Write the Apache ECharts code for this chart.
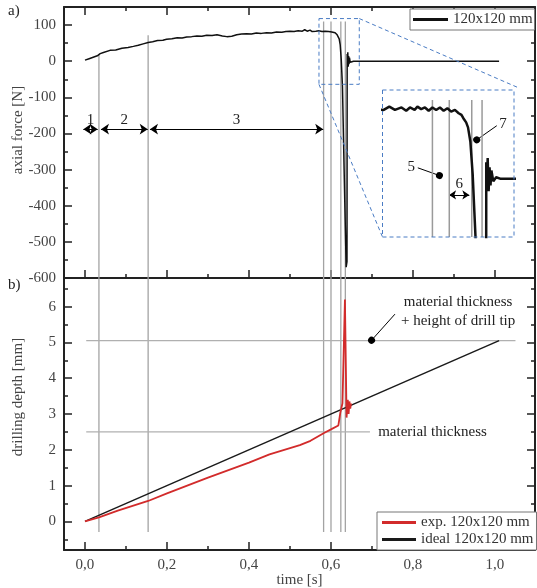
<!DOCTYPE html>
<html><head><meta charset="utf-8">
<script src="https://cdn.jsdelivr.net/npm/echarts@6/dist/echarts.min.js"></script>
<style>html,body{margin:0;padding:0;background:#fff}#c{width:537px;height:588px}</style>
</head><body><div id="c"></div>
<script>
// ---- data ----
const forceTime = [0, 0.01, 0.02, 0.03, 0.037, 0.045, 0.061, 0.075, 0.09, 0.105, 0.118, 0.13, 0.142, 0.154, 0.165, 0.177, 0.19, 0.199, 0.212, 0.225, 0.237, 0.248, 0.26, 0.273, 0.285, 0.297, 0.31, 0.322, 0.335, 0.346, 0.358, 0.37, 0.382, 0.394, 0.406, 0.418, 0.43, 0.443, 0.455, 0.467, 0.48, 0.49, 0.5, 0.51, 0.52, 0.53, 0.536, 0.542, 0.549, 0.554, 0.558, 0.563, 0.566, 0.57, 0.574, 0.578, 0.582, 0.586, 0.59, 0.594, 0.598, 0.602, 0.606, 0.61, 0.613, 0.615, 0.618, 0.62, 0.6225, 0.625, 0.628, 0.632, 0.637, 0.639, 0.6395, 0.640, 0.641, 0.642, 0.643, 0.644, 0.645, 0.647, 0.65, 0.655, 1.01];
const forceValue = [3, 7, 11, 15, 21, 24, 30, 31, 36, 38, 41, 44, 48, 52, 54, 57, 58, 61, 62, 65, 64, 67, 68, 70, 69, 72, 71, 73, 70, 68, 69, 73, 75, 76, 75, 78, 77, 79, 78, 81, 80, 82, 83, 82, 84, 83, 87, 83, 86, 82, 86, 83, 87, 84, 86, 82, 86, 83, 86, 82, 85, 81, 83, 79, 77, 73, 68, 62, 45, 5, -70, -300, -570, -555, 20, -12, 25, -15, 14, -8, 10, -3, 2, 0, 0];
const depthTime = [0, 0.034, 0.08, 0.154, 0.2, 0.3, 0.4, 0.45, 0.524, 0.55, 0.583, 0.6, 0.618, 0.621, 0.623, 0.628, 0.634, 0.638, 0.641, 0.643, 0.645, 0.647, 0.649];
const depthValue = [0, 0.11, 0.3, 0.57, 0.78, 1.22, 1.64, 1.87, 2.13, 2.25, 2.47, 2.57, 2.68, 2.72, 3.05, 3.3, 6.2, 2.9, 3.4, 3.0, 3.35, 3.15, 3.3];
const idealTime = [0, 1.01];
const idealValue = [0, 5.05];
const phaseTimes = [0.034, 0.154, 0.582, 0.6, 0.624, 0.635];
const phaseTopForce = [20, 72, 110, 110, 110, 110];
const insetLineTop = 95;
const depthLineBottom = -0.3;
const refLevels = [5.05, 2.5];
const refStart = [0.003, 0.003];
const refEnd = [1.05, 0.695];
const zoomBox = { t0: 0.5707, t1: 0.669, f0: -64, f1: 118 };
const seriesNames = ['120x120 mm', 'exp. 120x120 mm', 'ideal 120x120 mm'];

const FONT = 'Liberation Serif';
const AX = '#222';
const LBL = '#444';
const zip = (a, b) => a.map((v, i) => [v, b[i]]);

function mainX(gridIndex, pos, showLabel, name) {
  return {
    type: 'value', gridIndex, position: pos, min: -0.0512, max: 1.0976,
    splitNumber: 6, minInterval: 0.2, maxInterval: 0.2,
    axisLine: { show: true, onZero: false, lineStyle: { color: AX, width: 2 } },
    axisTick: { show: true, inside: true, length: 8, lineStyle: { color: AX, width: 1.5 } },
    minorTick: { show: true, splitNumber: 2, length: 4, lineStyle: { color: AX, width: 1.5 } },
    axisLabel: { show: showLabel, showMinLabel: false, showMaxLabel: false, margin: 8,
      fontFamily: FONT, fontSize: 15, color: LBL,
      formatter: v => v.toFixed(1).replace('.', ',') },
    splitLine: { show: false },
    name: name || '', nameLocation: 'middle', nameGap: 23, nameMoveOverlap: false,
    nameTextStyle: { fontFamily: FONT, fontSize: 15, color: LBL }
  };
}
function mainY(gridIndex, pos, showLabel, cfg, name, pad, showMin) {
  return Object.assign({
    type: 'value', gridIndex, position: pos,
    axisLine: { show: true, onZero: false, lineStyle: { color: AX, width: 2 } },
    axisTick: { show: true, inside: true, length: 8, lineStyle: { color: AX, width: 1.5 } },
    minorTick: { show: true, splitNumber: 2, length: 4, lineStyle: { color: AX, width: 1.5 } },
    axisLabel: { show: showLabel, showMaxLabel: false, showMinLabel: showMin, margin: 8,
      fontFamily: FONT, fontSize: 15, color: LBL },
    splitLine: { show: false },
    name: name || '', nameLocation: 'middle', nameGap: 38, nameMoveOverlap: false,
    nameTextStyle: { fontFamily: FONT, fontSize: 15, color: LBL, padding: pad || 0 }
  }, cfg);
}
const forceY = { min: -600, max: 150, interval: 100 };
const depthY = { min: -0.8, max: 6.8, splitNumber: 7, minInterval: 1, maxInterval: 1 };

const series = [];
const txt = { fontFamily: FONT, fontSize: 15, color: '#222' };

series.push({
  name: seriesNames[0], type: 'line', xAxisIndex: 0, yAxisIndex: 0, symbol: 'none', z: 5,
  lineStyle: { color: '#111', width: 1.5 }, itemStyle: { color: '#111' },
  data: zip(forceTime, forceValue),
  markLine: {
    silent: true, symbol: ['arrow', 'arrow'], symbolSize: 8, animation: false,
    lineStyle: { color: '#000', width: 1, type: 'solid' },
    label: Object.assign({ show: true, position: 'insideMiddleTop', distance: 2, formatter: '{b}' }, txt),
    data: [
      [{ name: '1', coord: [-0.004, -188] }, { coord: [0.031, -188] }],
      [{ name: '2', coord: [0.039, -188] }, { coord: [0.153, -188] }],
      [{ name: '3', coord: [0.1585, -188] }, { coord: [0.581, -188] }]
    ]
  }
});
series.push({
  name: 'inset', type: 'line', xAxisIndex: 3, yAxisIndex: 4, symbol: 'none', z: 6, clip: true,
  lineStyle: { color: '#111', width: 2.5 }, data: zip(forceTime, forceValue),
  markLine: {
    silent: true, animation: false, symbolSize: 7,
    lineStyle: { color: '#000', width: 1, type: 'solid' },
    label: Object.assign({ show: true, formatter: '{b}', distance: 3 }, txt),
    data: [
      [{ name: '5', coord: [0.5664, 13.3], symbol: 'none', label: { position: 'start' } }, { coord: [0.5895, 4], symbol: 'circle' }],
      [{ name: '6', coord: [0.5998, -19.3], symbol: 'arrow', label: { position: 'insideMiddleTop' } }, { coord: [0.6214, -19.3], symbol: 'arrow' }],
      [{ name: '7', coord: [0.6507, 64], symbol: 'none', label: { position: 'start' } }, { coord: [0.6293, 47], symbol: 'circle' }]
    ]
  }
});
series.push({
  name: seriesNames[1], type: 'line', xAxisIndex: 2, yAxisIndex: 2, symbol: 'none', z: 5,
  lineStyle: { color: '#d22b2b', width: 1.8 }, itemStyle: { color: '#d22b2b' },
  data: zip(depthTime, depthValue)
});
series.push({
  name: seriesNames[2], type: 'line', xAxisIndex: 2, yAxisIndex: 2, symbol: 'none', z: 4,
  lineStyle: { color: '#1a1a1a', width: 1.5 }, itemStyle: { color: '#1a1a1a' },
  data: zip(idealTime, idealValue),
  markLine: {
    silent: true, animation: false, label: { show: false },
    lineStyle: { color: '#000', width: 1, type: 'solid' },
    data: [[{ coord: [0.756, 5.79], symbol: 'none' }, { coord: [0.699, 5.06], symbol: 'circle', symbolSize: 7 }]]
  },
  markPoint: {
    silent: true, animation: false, symbol: 'circle', symbolSize: 1,
    itemStyle: { color: 'rgba(0,0,0,0)' },
    label: Object.assign({ show: true, position: 'inside', formatter: '{b}', lineHeight: 19, align: 'center' }, txt),
    data: [
      { name: 'material thickness\n+ height of drill tip', coord: [0.91, 5.85] },
      { name: 'material thickness', coord: [0.8476, 2.5] }
    ]
  }
});
const grayLine = { color: '#a3a3a3', width: 1.3 };
phaseTimes.forEach((t, i) => {
  series.push({ type: 'line', xAxisIndex: 0, yAxisIndex: 0, symbol: 'none', z: 2, silent: true,
    lineStyle: grayLine, data: [[t, phaseTopForce[i]], [t, -600]] });
  series.push({ type: 'line', xAxisIndex: 2, yAxisIndex: 2, symbol: 'none', z: 2, silent: true,
    lineStyle: grayLine, data: [[t, 6.8], [t, depthLineBottom]] });
  series.push({ type: 'line', xAxisIndex: 3, yAxisIndex: 4, symbol: 'none', z: 5, silent: true,
    lineStyle: { color: '#9a9a9a', width: 1.5 }, data: [[t, insetLineTop], [t, -70]] });
});
refLevels.forEach((lv, i) => {
  series.push({ type: 'line', xAxisIndex: 2, yAxisIndex: 2, symbol: 'none', z: 2, silent: true,
    lineStyle: { color: '#b0b0b0', width: 1.2 }, data: [[refStart[i], lv], [refEnd[i], lv]] });
});

const option = {
  animation: false,
  backgroundColor: '#fff',
  grid: [
    { left: 64, top: 7, width: 471, height: 271, outerBoundsMode: 'none', containLabel: false },
    { left: 64, top: 278, width: 471, height: 272, outerBoundsMode: 'none', containLabel: false },
    { left: 382.5, top: 90, width: 131.5, height: 147, outerBoundsMode: 'none', containLabel: false,
      show: true, backgroundColor: '#fff', borderWidth: 0, z: 3 }
  ],
  xAxis: [
    mainX(0, 'bottom', false),
    mainX(0, 'top', false),
    mainX(1, 'bottom', true, 'time [s]'),
    { type: 'value', gridIndex: 2, min: 0.5287, max: 0.6691, show: false }
  ],
  yAxis: [
    mainY(0, 'left', true, forceY, 'axial force [N]', [0, 0, 0, 25], true),
    mainY(0, 'right', false, forceY),
    mainY(1, 'left', true, depthY, 'drilling depth [mm]', [0, 0, 0, 34], false),
    mainY(1, 'right', false, depthY),
    { type: 'value', gridIndex: 2, min: -70, max: 107, show: false }
  ],
  legend: [
    { data: [seriesNames[0]], left: 410, top: 9, padding: [3, 2, 3, 3], itemWidth: 35, itemHeight: 3,
      icon: 'rect', selectedMode: false, borderColor: '#777', borderWidth: 1, backgroundColor: '#fff',
      textStyle: { fontFamily: FONT, fontSize: 15, color: '#333', lineHeight: 15 } },
    { data: [seriesNames[1], seriesNames[2]], orient: 'vertical', left: 377, top: 512,
      padding: [3, 3, 3, 5], itemWidth: 34, itemHeight: 3, itemGap: 2, icon: 'rect', selectedMode: false,
      borderColor: '#777', borderWidth: 1, backgroundColor: '#fff',
      textStyle: { fontFamily: FONT, fontSize: 15, color: '#333', lineHeight: 15 } }
  ],
  series
};

const chart = echarts.init(document.getElementById('c'), null, { renderer: 'canvas' });
chart.setOption(option);

// dashed zoom boxes, computed from the axes' own scales
const p = (g, v) => chart.convertToPixel({ gridIndex: g }, v);
const a = p(0, [zoomBox.t0, zoomBox.f1]), b = p(0, [zoomBox.t1, zoomBox.f0]);
const c = p(2, [0.5287, 107]), d = p(2, [0.6691, -70]);
const dash = { stroke: '#4a7cc4', lineWidth: 1, lineDash: [4, 3], fill: null };
chart.setOption({
  graphic: [
    { type: 'rect', z: 50, shape: { x: a[0], y: a[1], width: b[0] - a[0], height: b[1] - a[1] }, style: dash },
    { type: 'rect', z: 50, shape: { x: c[0], y: c[1], width: d[0] - c[0], height: d[1] - c[1] }, style: dash },
    { type: 'line', z: 50, shape: { x1: a[0], y1: b[1], x2: c[0], y2: d[1] }, style: dash },
    { type: 'line', z: 50, shape: { x1: b[0], y1: a[1], x2: d[0] + 5, y2: c[1] - 2 }, style: dash },
    { type: 'text', z: 50, left: 8, top: 4, style: { text: 'a)', font: '15px "Liberation Serif"', fill: '#222' } },
    { type: 'text', z: 50, left: 8, top: 278, style: { text: 'b)', font: '15px "Liberation Serif"', fill: '#222' } }
  ]
});
</script></body></html>
